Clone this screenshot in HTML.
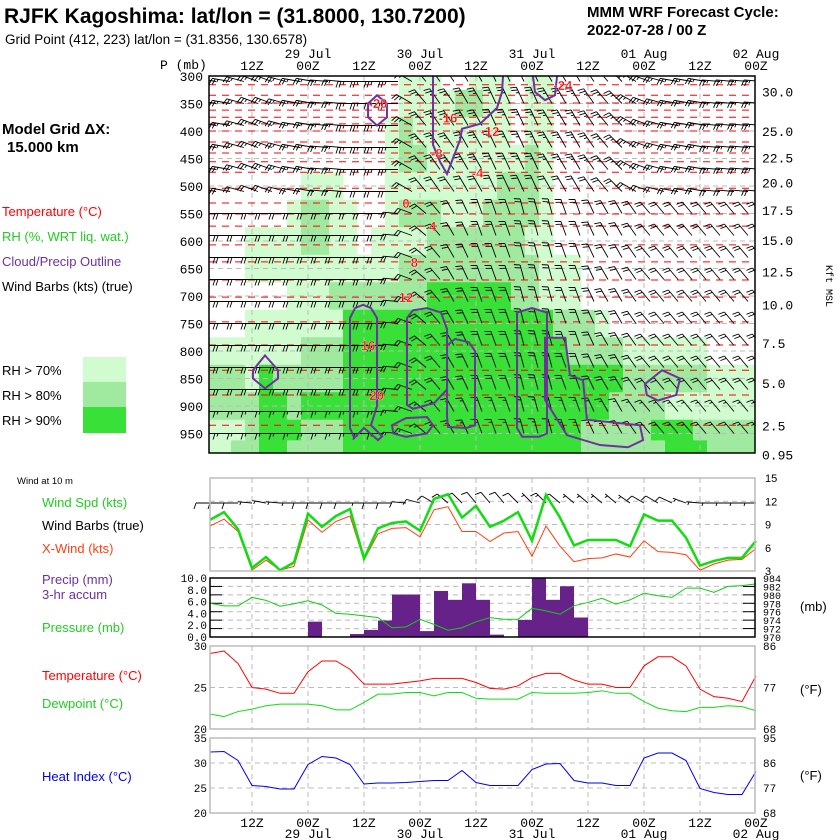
<!DOCTYPE html>
<html><head><meta charset="utf-8"><style>
html,body{margin:0;padding:0;background:#fff;}
svg{display:block;font-family:"Liberation Sans",sans-serif;}
.m{font-family:"Liberation Mono","DejaVu Sans Mono",monospace;}
</style></head><body>
<svg id="c" width="840" height="840" viewBox="0 0 840 840" xmlns="http://www.w3.org/2000/svg">
<rect x="0" y="0" width="840" height="840" fill="#fff"/>
<text x="4" y="23" font-size="21" font-weight="bold">RJFK Kagoshima:  lat/lon = (31.8000, 130.7200)</text>
<text x="5" y="44" font-size="13.5">Grid Point (412, 223) lat/lon = (31.8356, 130.6578)</text>
<text x="587" y="17" font-size="15" font-weight="bold">MMM WRF Forecast Cycle:</text>
<text x="587" y="35" font-size="15" font-weight="bold">2022-07-28 / 00  Z</text>
<text x="160" y="69" font-size="13" class="m">P (mb)</text>
<text x="2" y="134" font-size="15" font-weight="bold">Model Grid ΔX:</text>
<text x="7" y="152" font-size="15" font-weight="bold">15.000 km</text>
<text x="2" y="216" font-size="13" fill="#f00">Temperature (°C)</text>
<text x="2" y="241" font-size="13" fill="#22cc22">RH (%, WRT liq. wat.)</text>
<text x="2" y="266" font-size="13" fill="#7030a0">Cloud/Precip Outline</text>
<text x="2" y="291" font-size="13">Wind Barbs (kts) (true)</text>
<text x="2" y="375" font-size="13">RH &gt; 70%</text>
<text x="2" y="400" font-size="13">RH &gt; 80%</text>
<text x="2" y="425" font-size="13">RH &gt; 90%</text>
<rect x="83" y="357" width="43" height="25" fill="#d0fcd0"/>
<rect x="83" y="382" width="43" height="25" fill="#a0eaa0"/>
<rect x="83" y="407" width="43" height="26" fill="#38e038"/>
<text x="17" y="484" font-size="9.5">Wind at 10 m</text>
<text x="42" y="507" font-size="13" fill="#22cc22">Wind Spd (kts)</text>
<text x="42" y="530" font-size="13">Wind Barbs (true)</text>
<text x="42" y="553" font-size="13" fill="#ff4010">X-Wind (kts)</text>
<text x="42" y="584" font-size="13" fill="#7030a0">Precip (mm)</text>
<text x="42" y="599" font-size="13" fill="#7030a0">3-hr accum</text>
<text x="42" y="632" font-size="13" fill="#22cc22">Pressure (mb)</text>
<text x="42" y="680" font-size="13" fill="#f00">Temperature (°C)</text>
<text x="42" y="708" font-size="13" fill="#22cc22">Dewpoint (°C)</text>
<text x="42" y="781" font-size="13" fill="#0000ee">Heat Index (°C)</text>
<text x="800" y="611" font-size="13">(mb)</text>
<text x="800" y="694" font-size="13">(°F)</text>
<text x="800" y="780" font-size="13">(°F)</text>
<text transform="translate(826,265) rotate(90)" font-size="10" class="m">Kft MSL</text>
<g id="g"></g>
</svg>
<script>
// ---------- DATA ----------
const levels = [300,350,400,450,500,550,600,650,700,750,800,850,900,950,975];
const rhRows = [
"0000000000000011100111011000000000000000",
"0000000000000011112211011000000000000000",
"0000000000000121111111011000000000000000",
"0000000000000122111111121000000000000000",
"0000000111000111111112221000000000000000",
"0000001221100122211122221000000000000000",
"0001111221101111222222211000000000000000",
"0001111111111122222222221110000000000000",
"0000001112222222333333221110000000000000",
"0001111111333333333333333222100000000000",
"1111111222333333333333333322221111110000",
"2221322222333333333333333333332222221111",
"2222332333333333333333333333322221111111",
"1112333222333333333333333332222233322222",
"1122332222333333333333333332222223332222"];
const isoT = [-24,-22,-20,-18,-16,-14,-12,-10,-8,-6,-4,-2,0,2,4,6,8,10,12,14,16,18,20,22];
const isoP = [316,335,349,362,375,387,400,420,440,456,475,504,531,551,573,607,638,671,702,747,789,835,880,935];
const isoLabelT = [-24,-20,-16,-12,-8,-4,0,4,8,12,16,20];
const isoLabelI = [25.2,12,17,20,16.2,19.1,14,15.9,14.6,14,11.3,11.9];
const cloudA = [[10,740],[10.36,722],[10.93,716],[11.5,722],[11.93,740],[11.93,900],[11.5,935],[12.3,955],[12,962],[11,940],[10.3,958],[10,940]];
const cloudB = [[14.07,740],[14.5,726],[15.5,722],[16.5,730],[16.93,760],[16.93,870],[16,895],[14.5,905],[14.07,898]];
const cloudC = [[16.93,790],[17.5,778],[18.5,784],[18.93,800],[18.93,935],[18.3,940],[17,938],[16.93,920]];
const cloudD = [[13,935],[14,922],[15.5,920],[15.93,935],[15.5,950],[14,956],[13.1,950]];
const cloudE = [[21.93,730],[23,722],[24.07,730],[24.07,950],[23.5,956],[22.3,956],[21.93,940]];
const cloudF = [[23.93,776],[25.36,776],[25.71,844],[26.64,853],[26.93,925],[30.71,935],[30.93,962],[29.86,975],[27.86,971],[25.5,953],[23.93,889]];
const cloudG = [[31.07,860],[32.29,835],[33.57,850],[33.3,880],[32,890],[31.2,880]];
const cloudTop1 = [[11.29,350],[11.93,335],[12.64,350],[12.64,375],[11.93,390],[11.29,375]];
const cloudLeft = [[3.07,835],[3.93,808],[4.86,835],[4.86,850],[3.93,868],[3.07,850]];
const cloudH = [[15.93,300],[15.93,425],[16.43,456],[16.93,478],[17.86,416],[18,396],[19.29,387],[20.5,358],[20.86,329],[20.93,300]];
const cloudI = [[23.07,300],[23.21,329],[23.93,344],[24.64,335],[24.79,300]];
const barbLevels = [310,350,390,430,470,510,550,590,630,670,710,750,790,830,870,910,950];
const barbSpdRow = [25,25,25,25,25,20,20,20,20,20,20,20,20,20,20,15,15];
const dirUpper = [280,280,285,290,290,285,280,280,275,275,270,270,270,270,300,320,325,325,330,330,335,335,335,335,330,330,330,325,320,315,300,290,285,280,280,280,275,275,275,275];
const dirLower = [270,270,270,270,270,270,270,270,270,270,270,270,270,275,290,310,320,330,335,340,340,340,345,345,345,340,340,335,330,330,325,320,320,320,320,320,320,320,320,320];
const windSpd = [9.6,10.6,8.4,3.4,4.8,3.1,4.1,10.4,8.7,10.1,11.0,4.6,8.5,9.2,9.4,8.2,12.3,12.9,9.9,11.4,8.7,9.5,10.6,6.9,12.8,9.9,6.3,7.0,7.0,7.0,6.2,10.3,9.5,9.5,7.3,3.7,4.3,4.7,4.7,6.9];
const xWind = [8.8,9.7,8.1,3.1,4.4,3.1,3.6,9.6,8.0,9.4,10.1,4.4,7.8,8.5,8.6,7.4,10.9,11.3,8.1,8.1,6.8,7.9,8.1,4.9,8.8,6.2,4.2,4.6,4.7,5.2,4.8,6.9,5.5,5.4,5.1,3.1,3.9,4.4,4.5,5.9];
const dir10 = [270,270,270,275,280,275,270,270,270,270,270,270,270,270,275,285,300,310,315,320,320,320,315,315,315,310,310,310,310,310,305,300,300,295,290,275,270,270,270,270];
const precip = [0,0,0,0,0,0,0,2.6,0,0,0.5,1.2,2.8,7.2,7.2,1.0,7.8,6.3,9.1,6.3,0.4,0,2.9,10,6.3,8.6,3.3,0,0,0,0,0,0,0,0,0,0,0,0];
const pres = [978.0,977.4,977.4,979.4,978.7,977.3,977.9,978.6,977.6,975.6,975.4,975.0,974.6,972.2,972.4,974.2,973.0,971.6,972.2,973.6,974.6,974.2,974.2,976.8,976.2,975.4,977.4,978.2,979.2,977.8,978.8,980.4,979.8,979.4,981.6,981.6,980.6,982.0,982.2,982.6];
const temp = [29.1,29.4,27.9,25.0,24.8,24.3,24.3,26.9,28.2,28.2,27.2,25.4,25.4,25.4,25.6,25.8,26.1,26.1,26.1,25.6,24.9,24.8,25.2,26.2,26.7,26.7,25.9,25.4,25.4,25.0,25.0,27.6,28.7,28.7,27.6,24.8,23.9,23.7,23.3,26.4];
const dewp = [21.8,21.5,22.1,22.4,22.8,23.0,23.0,23.0,22.8,22.3,22.3,23.2,24.2,24.2,24.4,24.4,24.0,24.4,24.4,23.7,23.6,23.6,23.6,24.4,24.3,24.3,24.3,24.4,24.6,24.3,24.3,23.3,22.5,22.2,22.1,22.6,22.6,22.8,22.7,22.2];
const heatIdx = [32.2,32.3,30.5,25.5,25.3,24.8,24.8,29.7,31.3,31.0,29.7,25.8,26.0,26.0,26.1,26.3,26.5,26.5,28.5,26.1,25.5,25.5,25.5,28.7,29.8,29.9,26.5,26.0,26.0,25.5,25.5,31.0,32.0,32.0,30.5,24.9,24.1,23.7,23.7,28.3];
const timeTickI = [3,7,11,15,19,23,27,31,35,39];
const timeTickLabels = ["12Z","00Z","12Z","00Z","12Z","00Z","12Z","00Z","12Z","00Z"];
const dateTickI = [7,15,23,31,39];
const dateLabels = ["29 Jul","30 Jul","31 Jul","01 Aug","02 Aug"];
const pLabels = [300,350,400,450,500,550,600,650,700,750,800,850,900,950];
const kftLabels = ["30.0","25.0","22.5","20.0","17.5","15.0","12.5","10.0","7.5","5.0","2.5","0.95"];
const kftP = [328,400,448,494,544,598,655,715,785,858,935,988];

// ---------- AXES ----------
const X = i => 210 + 14*i;
const Yp = p => 76 + (p-300)*0.55;
const Yw = v => 478 + (15-v)*93/12;
const Ypr = mm => 637 - mm*5.9;
const Ypres = mb => 637 - (mb-970)*59/14;
const Yt = c => 729 - (c-20)*8.3;
const Yh = c => 813 - (c-20)*5;
const NS = "http://www.w3.org/2000/svg";
const G = document.getElementById('g');
function mk(tag, at, parent){const e=document.createElementNS(NS,tag);for(const k in at)e.setAttribute(k,at[k]);(parent||G).appendChild(e);return e;}
function txt(x,y,s,size,anchor,fill,cls){const e=mk('text',{x:x,y:y,'font-size':size,'text-anchor':anchor||'start',fill:fill||'#000'});if(cls)e.setAttribute('class',cls);e.textContent=s;return e;}

const defs = mk('defs',{});
const cp = mk('clipPath',{id:'mainclip'},defs);
mk('rect',{x:209,y:76,width:546,height:377},cp);
const main = mk('g',{'clip-path':'url(#mainclip)'});



const rhCol = ['none','#d0fcd0','#a0eaa0','#38e038'];
for(let r=0;r<levels.length;r++){
  const p=levels[r];
  const pPrev = r>0?levels[r-1]:p-50, pNext = r<levels.length-1?levels[r+1]:p+50;
  const y0 = Yp((p+pPrev)/2), y1 = Yp((p+pNext)/2);
  for(let i=0;i<40;i++){
    const c=+rhRows[r][i]; if(!c) continue;
    const e=mk('rect',{x:X(i)-7,y:y0,width:14.5,height:y1-y0+0.5,fill:rhCol[c]},main);
    
    
  }
}
for(const p of pLabels.slice(1)){
  const e=mk('line',{x1:209,x2:755,y1:Yp(p),y2:Yp(p),stroke:'#bbb','stroke-dasharray':'5,4','stroke-width':1},main);
  
  
}
for(const i of timeTickI){
  const e=mk('line',{x1:X(i),x2:X(i),y1:76,y2:453,stroke:'#bbb','stroke-dasharray':'5,4','stroke-width':1},main);
  
  
}
for(let k=0;k<isoT.length;k++){
  const y=Yp(isoP[k]);
  const e=mk('line',{x1:209,x2:755,y1:y,y2:y,stroke:'#f00','stroke-dasharray':'7,6','stroke-width':1},main);
  
  
}
function barb(parent,x,y,dir,spd,len){
  const a=dir*Math.PI/180, dx=Math.sin(a), dy=-Math.cos(a);
  const px=dy, py=-dx;
  let d=`M${x},${y}L${x+dx*len},${y+dy*len}`;
  let s=Math.round(spd/5)*5, pos=len;
  while(s>=10){d+=`M${x+dx*pos},${y+dy*pos}l${px*6+dx*2},${py*6+dy*2}`;pos-=3;s-=10;}
  if(s>=5){if(pos===len)pos-=3;d+=`M${x+dx*pos},${y+dy*pos}l${px*3+dx*1},${py*3+dy*1}`;}
  return mk('path',{d:d,stroke:'#000','stroke-width':0.9,fill:'none'},parent);
}
for(let r=0;r<barbLevels.length;r++){
  for(let i=0;i<40;i++){
    const p=barbLevels[r];
    const dir = p<520 ? dirUpper[i] : dirLower[i];
    const e=barb(main,X(i)+6,Yp(p),dir,barbSpdRow[r],p<520?18:15);
    
    
  }
}
const clouds=[[cloudA,1],[cloudB,1],[cloudC,1],[cloudD,1],[cloudE,1],[cloudF,1],[cloudG,1],[cloudTop1,1],[cloudLeft,1],[cloudH,0],[cloudI,0]];
for(const [pts,closed] of clouds){
  let d=pts.map((q,j)=>(j?'L':'M')+X(q[0])+','+Yp(q[1])).join('')+(closed?'Z':'');
  const e=mk('path',{d:d,stroke:'#7030a0','stroke-width':2,fill:'none'},main);
  
  
}
for(let k=0;k<isoLabelT.length;k++){
  const idx=isoT.indexOf(isoLabelT[k]);
  const t=txt(X(isoLabelI[k]),Yp(isoP[idx])+5,String(isoLabelT[k]),13,'middle','#f00');
  t.setAttribute('font-weight','bold');
  t.setAttribute('stroke','#fff');
  t.setAttribute('stroke-width','0.3');
  
  
}
const border=mk('rect',{x:209,y:76,width:546,height:377,fill:'none',stroke:'#000','stroke-width':1.5});


for(const p of pLabels){
  const t=txt(203,Yp(p)+5,String(p),13,'end','#000','m');
  
  
}
for(let k=0;k<kftLabels.length;k++){
  const t=txt(762,Yp(kftP[k])+5,kftLabels[k],13,'start','#000','m');
  
  
}
for(let k=0;k<timeTickI.length;k++){
  const t=txt(X(timeTickI[k]),70,timeTickLabels[k],13,'middle','#000','m');
  
  
  const b=txt(X(timeTickI[k]),827,timeTickLabels[k],13,'middle','#000','m');
  
  
}
for(let k=0;k<dateTickI.length;k++){
  const t=txt(X(dateTickI[k]),58,dateLabels[k],13,'middle','#000','m');
  
  
  const b=txt(X(dateTickI[k]),838,dateLabels[k],13,'middle','#000','m');
  
  
}

function panel(y0,y1,name,stroke,hvals,yf){
  for(const v of hvals){
    const e=mk('line',{x1:210,x2:755,y1:yf(v),y2:yf(v),stroke:'#bbb','stroke-dasharray':'5,4'});
    
    
  }
  for(const i of timeTickI.slice(0,-1)){
    const e=mk('line',{x1:X(i),x2:X(i),y1:y0,y2:y1,stroke:'#bbb','stroke-dasharray':'5,4'});
    
    
  }
}
function frame(y0,y1,name,stroke,w){
  const e=mk('rect',{x:210,y:y0,width:545,height:y1-y0,fill:'none',stroke:stroke,'stroke-width':w});
  
  
}
function line(arr,yf,color,w,name){
  const e=mk('polyline',{points:arr.map((v,i)=>X(i)+','+yf(v)).join(' '),fill:'none',stroke:color,'stroke-width':w});
  
  
}
panel(478,571,'wind','#bbb',[12,9,6],Yw);
for(let i=0;i<40;i++){
  const e=barb(G,X(i),503,dir10[i],windSpd[i],14);
  
  
}
line(xWind,Yw,'#ff4010',1,'crosswind-line');
line(windSpd,Yw,'#11dd11',2.5,'wind-speed-line');
frame(478,571,'wind','#bbb',1.5);
for(const v of [15,12,9,6,3]){
  const t=txt(765,Yw(v)+4,String(v),11,'start');
  
  
}
for(let k=1;k<7;k++){
  const mb=970+2*k;
  const e=mk('line',{x1:210,x2:755,y1:Ypres(mb),y2:Ypres(mb),stroke:'#bbb','stroke-dasharray':'5,4'});
  
  
  const t1=mk('line',{x1:210,x2:222,y1:Ypres(mb),y2:Ypres(mb),stroke:'#000'});
  
  
  const t2=mk('line',{x1:743,x2:755,y1:Ypres(mb),y2:Ypres(mb),stroke:'#000'});
  
  
}
for(const i of timeTickI.slice(0,-1)){
  const e=mk('line',{x1:X(i),x2:X(i),y1:578,y2:637,stroke:'#bbb','stroke-dasharray':'5,4'});
  
  
}
for(let i=0;i<precip.length;i++){
  if(!precip[i]) continue;
  const e=mk('rect',{x:X(i),y:Ypr(precip[i]),width:14,height:637-Ypr(precip[i]),fill:'#662288'});
  
  
}
line(pres,Ypres,'#11cc11',1,'pressure-line');
frame(578,637,'precip','#000',1.5);
for(const v of [10,8,6,4,2,0]){
  const t=txt(207,Ypr(v)+4,v.toFixed(1),11,'end','#000','m');
  
  
}
for(let mb=970;mb<=984;mb+=2){
  const t=txt(763,Ypres(mb)+4,String(mb),10,'start','#000','m');
  
  
}
panel(646,729,'temp','#bbb',[25],Yt);
line(temp,Yt,'#f00',1,'temperature-line');
line(dewp,Yt,'#11dd11',1,'dewpoint-line');
frame(646,729,'temp','#bbb',1.5);
for(const v of [30,25,20]){
  const t=txt(207,Yt(v)+4,String(v),11,'end','#000','m');
  
  
}
for(const [f,c] of [[86,30],[77,25],[68,20]]){
  const t=txt(763,Yt(c)+4,String(f),11,'start','#000','m');
  
  
}
panel(738,813,'heat-index','#bbb',[30,25],Yh);
line(heatIdx,Yh,'#0000ee',1,'heat-index-line');
frame(738,813,'heat-index','#bbb',1.5);
for(const v of [35,30,25,20]){
  const t=txt(207,Yh(v)+4,String(v),11,'end','#000','m');
  
  
}
for(const [f,c] of [[95,35],[86,30],[77,25],[68,20]]){
  const t=txt(763,Yh(c)+4,String(f),11,'start','#000','m');
  
  
}
</script>
</body></html>
